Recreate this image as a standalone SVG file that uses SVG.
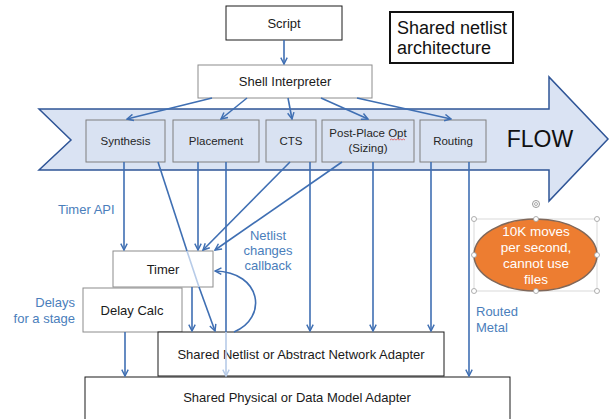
<svg xmlns="http://www.w3.org/2000/svg" width="611" height="419" viewBox="0 0 611 419">
<style>
text{font-family:"Liberation Sans",Arial,sans-serif;}
.box{fill:#fff;stroke:#8c8c8c;stroke-width:1}
.bbox{fill:#fff;stroke:#1a1a1a;stroke-width:1}
.fbox{fill:#d9e2f2;stroke:#7f7f7f;stroke-width:1}
.t{font-size:13px;fill:#1a1a1a;text-anchor:middle}
.ft{font-size:11.5px;fill:#262626;text-anchor:middle}
.lbl{font-size:13px;fill:#4a7ebb}
.c{fill:none;stroke:#3f6fb3;stroke-width:1.6}
.cl{fill:none;stroke:#b7cbe8;stroke-width:1.6}
</style>
<defs>
<marker id="ah" viewBox="0 0 10 10" refX="9" refY="5" markerWidth="8" markerHeight="8" orient="auto" markerUnits="userSpaceOnUse">
<path d="M1,1 L9,5 L1,9" fill="none" stroke="#3f6fb3" stroke-width="1.8"/>
</marker>
<marker id="ahl" viewBox="0 0 10 10" refX="9" refY="5" markerWidth="8" markerHeight="8" orient="auto" markerUnits="userSpaceOnUse">
<path d="M1,1 L9,5 L1,9" fill="none" stroke="#b7cbe8" stroke-width="1.8"/>
</marker>
</defs>

<g id="flow-arrow">
<polygon points="39,109 549,109 549,77 608,139 549,201 549,170 39,170 71,140" fill="#dae3f3" stroke="#2f5597" stroke-width="1.5"/>
<text x="540" y="147" font-size="23" fill="#111" text-anchor="middle">FLOW</text>
</g>

<g id="title">
<rect x="390" y="12" width="123" height="51" fill="#fff" stroke="#111" stroke-width="2"/>
<text x="397" y="34" font-size="18" fill="#111">Shared netlist</text>
<text x="397" y="54" font-size="18" fill="#111">architecture</text>
</g>

<g id="script"><rect class="bbox" x="226" y="6" width="116" height="34"/><text class="t" x="284" y="28">Script</text></g>
<g id="shell"><rect class="box" x="198" y="65" width="174" height="33"/><text class="t" x="285" y="86">Shell Interpreter</text></g>

<g id="synthesis"><rect class="fbox" x="86" y="120" width="79" height="42"/><text class="ft" x="125.5" y="145">Synthesis</text></g>
<g id="placement"><rect class="fbox" x="173" y="120" width="86" height="42"/><text class="ft" x="216" y="145">Placement</text></g>
<g id="cts"><rect class="fbox" x="266" y="120" width="50" height="42"/><text class="ft" x="291" y="145">CTS</text></g>
<g id="postplace"><rect class="fbox" x="322" y="120" width="92" height="42"/><text class="ft" x="368" y="137">Post-Place Opt</text><text class="ft" x="368" y="152">(Sizing)</text>
<path d="M390,140 l1.5,-1 l1.5,1 l1.5,-1 l1.5,1 l1.5,-1 l1.5,1 l1.5,-1 l1.5,1 l1.5,-1 l1.5,1" fill="none" stroke="#e04040" stroke-width="0.7"/></g>
<g id="routing"><rect class="fbox" x="420" y="120" width="66" height="42"/><text class="ft" x="453" y="145">Routing</text></g>

<g id="timer"><rect class="box" x="113" y="251" width="100" height="36"/><text class="t" x="163" y="274">Timer</text></g>
<g id="delaycalc"><rect class="box" x="83" y="288" width="99" height="44"/><text class="t" x="132" y="315">Delay Calc</text></g>
<g id="netlist"><rect class="bbox" x="158" y="332" width="286" height="44"/><text class="t" x="301" y="359">Shared Netlist or Abstract Network Adapter</text></g>
<g id="physical"><rect class="bbox" x="85" y="377" width="425" height="50"/><text class="t" x="297" y="402">Shared Physical or Data Model Adapter</text></g>

<g id="note">
<rect x="474" y="219" width="123" height="72" fill="none" stroke="#cfcfcf" stroke-width="0.8"/>
<ellipse cx="535.5" cy="255" rx="61.5" ry="36" fill="#ed7d31" stroke="#80685a" stroke-width="1.5"/>
<g font-size="13.5" fill="#fff" text-anchor="middle">
<text x="536" y="236">10K moves</text>
<text x="536" y="252">per second,</text>
<text x="536" y="268">cannot use</text>
<text x="536" y="284">files</text>
</g>
<g fill="#fff" stroke="#9a9a9a" stroke-width="0.8">
<circle cx="474" cy="219" r="2.5"/><circle cx="536" cy="219" r="2.5"/><circle cx="597" cy="219" r="2.5"/>
<circle cx="474" cy="255" r="2.5"/><circle cx="597" cy="255" r="2.5"/>
<circle cx="474" cy="291" r="2.5"/><circle cx="536" cy="291" r="2.5"/><circle cx="597" cy="291" r="2.5"/>
</g>
<circle cx="536" cy="204" r="3.5" fill="none" stroke="#9a9a9a" stroke-width="1"/>
<circle cx="536" cy="204" r="1.5" fill="none" stroke="#9a9a9a" stroke-width="0.8"/>
</g>

<g id="connectors">
<path class="c" d="M284,40 L284,64" marker-end="url(#ah)"/>
<path class="c" d="M212,98 L127,119" marker-end="url(#ah)"/>
<path class="c" d="M247,98 L221,119" marker-end="url(#ah)"/>
<path class="c" d="M288,98 L292,119" marker-end="url(#ah)"/>
<path class="c" d="M321,98 L368,119" marker-end="url(#ah)"/>
<path class="c" d="M357,98 L451,119" marker-end="url(#ah)"/>
<path class="c" d="M124,162 L124,250" marker-end="url(#ah)"/>
<path class="c" d="M158,162 L187,251"/>
<path class="cl" d="M187,251 L199,287"/>
<path class="c" d="M199,287 L215,331" marker-end="url(#ah)"/>
<path class="c" d="M198,162 L198,250" marker-end="url(#ah)"/>
<path class="c" d="M226,162 L226,332"/>
<path class="cl" d="M226,332 L226,376" marker-end="url(#ahl)"/>
<path class="c" d="M290,162 L203,250" marker-end="url(#ah)"/>
<path class="c" d="M342,162 L215,250" marker-end="url(#ah)"/>
<path class="c" d="M310,162 L310,331" marker-end="url(#ah)"/>
<path class="c" d="M373,162 L373,331" marker-end="url(#ah)"/>
<path class="c" d="M431,162 L431,331" marker-end="url(#ah)"/>
<path class="c" d="M469,162 L469,376" marker-end="url(#ah)"/>
<path class="c" d="M192,287 L192,331" marker-end="url(#ah)"/>
<path class="c" d="M125,332 L125,376" marker-end="url(#ah)"/>
<path class="c" d="M234,332 C268,318 262,272 215,271" marker-end="url(#ah)"/>
</g>

<g id="labels">
<text class="lbl" x="58" y="214">Timer API</text>
<text class="lbl" x="268" y="240" text-anchor="middle">Netlist</text>
<text class="lbl" x="268" y="255" text-anchor="middle">changes</text>
<text class="lbl" x="268" y="270" text-anchor="middle">callback</text>
<text class="lbl" x="75" y="307" text-anchor="end">Delays</text>
<text class="lbl" x="75" y="323" text-anchor="end">for a stage</text>
<text class="lbl" x="476" y="316">Routed</text>
<text class="lbl" x="476" y="332">Metal</text>
</g>
</svg>
